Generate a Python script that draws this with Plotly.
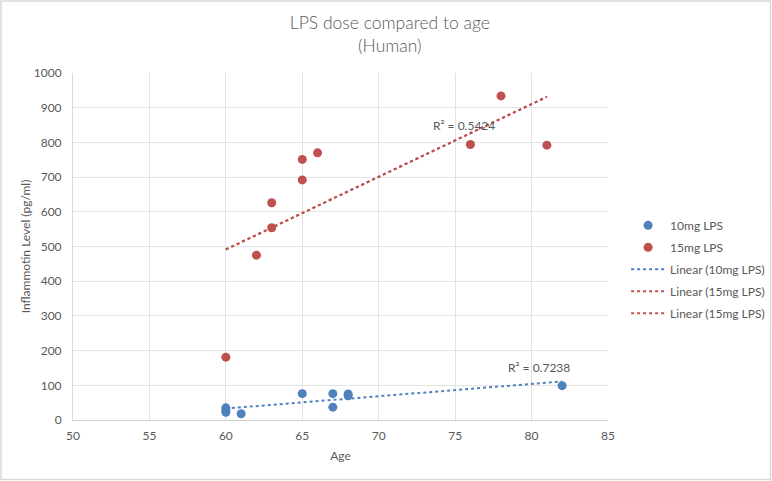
import numpy as np
import plotly.graph_objects as go

# Data
age_10 = [60, 60, 60, 61, 65, 67, 67, 68, 68, 82]
lvl_10 = [35, 28, 22, 18, 76, 76, 37, 75, 70, 99]
age_15 = [60, 62, 63, 63, 65, 65, 66, 76, 78, 81]
lvl_15 = [181, 475, 554, 626, 692, 751, 770, 794, 934, 792]
r2_labels = ["R² = 0.7238", "R² = 0.5424"]

BLUE = "#4F81BD"
RED = "#C0504D"
GREY = "#595959"
FONT = "Lato"

def trend(x, y):
    m, b = np.polyfit(x, y, 1)
    xs = np.array([min(x), max(x)])
    return xs, m * xs + b

fig = go.Figure()
fig.add_trace(go.Scatter(x=age_10, y=lvl_10, mode="markers", name="10mg LPS",
                         legendgroup="a", marker=dict(color=BLUE, size=9)))
fig.add_trace(go.Scatter(x=age_15, y=lvl_15, mode="markers", name="15mg LPS",
                         legendgroup="b", marker=dict(color=RED, size=9)))
tx, ty = trend(age_10, lvl_10)
fig.add_trace(go.Scatter(x=tx, y=ty, mode="lines", name="Linear (10mg LPS)",
                         legendgroup="c", line=dict(color=BLUE, width=2, dash="dot")))
tx, ty = trend(age_15, lvl_15)
fig.add_trace(go.Scatter(x=tx, y=ty, mode="lines", name="Linear (15mg LPS)",
                         legendgroup="d", line=dict(color=RED, width=2, dash="dot")))
fig.add_trace(go.Scatter(x=tx, y=ty, mode="lines", name="Linear (15mg LPS)",
                         legendgroup="e", line=dict(color=RED, width=2, dash="dot")))

fig.add_annotation(x=80.5, y=150, text=r2_labels[0], showarrow=False,
                   font=dict(family=FONT, size=12, color=GREY))
fig.add_annotation(x=75.6, y=850, text=r2_labels[1], showarrow=False,
                   font=dict(family=FONT, size=12, color=GREY))

L, R, T, B = 73, 164, 73, 61
pw, ph = 772 - L - R, 481 - T - B
fig.add_shape(type="rect", xref="paper", yref="paper",
              x0=-(L - 1) / pw, x1=1 + (R - 1.5) / pw,
              y0=-(B - 1.5) / ph, y1=1 + (T - 1) / ph,
              line=dict(color="#D9D9D9", width=1.5), layer="below")

fig.update_layout(
    width=772, height=481,
    margin=dict(l=L, r=R, t=T, b=B),
    paper_bgcolor="white", plot_bgcolor="white",
    font=dict(family=FONT, color=GREY, size=12),
    title=dict(text="LPS dose compared to age<br>(Human)", x=0.505, xref="container",
               xanchor="center", y=0.94, yanchor="top",
               font=dict(family=FONT, size=17.5, color=GREY, weight=300)),
    xaxis=dict(range=[50, 85], dtick=5, showgrid=True, gridcolor="#E3E3E3",
               showline=True, linecolor="#D0D0D0", zeroline=False, ticks="",
               ticklabelstandoff=5,
               title=dict(text="Age", font=dict(size=12), standoff=9),
               tickfont=dict(size=12)),
    yaxis=dict(range=[0, 1000], dtick=100, showgrid=True, gridcolor="#E3E3E3",
               showline=True, linecolor="#D9D9D9", zeroline=False, ticks="",
               ticklabelstandoff=8,
               title=dict(text="Inflammotin Level (pg/ml)", font=dict(size=12), standoff=0),
               tickfont=dict(size=12)),
    legend=dict(xref="container", yref="container", x=0.811, y=0.44,
                xanchor="left", yanchor="middle",
                font=dict(family=FONT, size=12, color=GREY),
                tracegroupgap=3, itemwidth=34),
    showlegend=True,
)

fig.write_html("out.html", config={"displayModeBar": False},
               post_script="document.body.style.margin='0';")
